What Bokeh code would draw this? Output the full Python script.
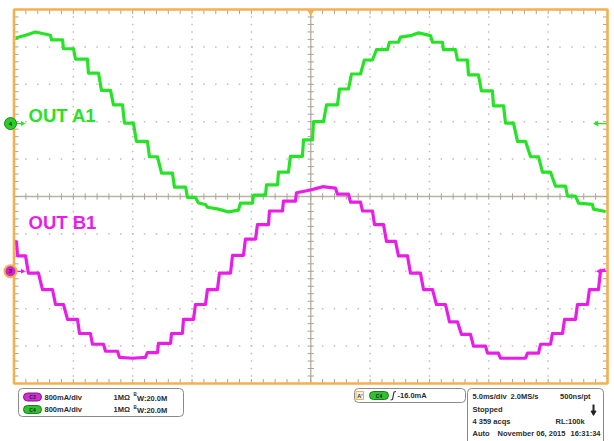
import numpy as np
from bokeh.plotting import figure
from bokeh.models import Range1d, Label
from bokeh.embed import file_html
from bokeh.resources import INLINE

# ---------------- data read from the scope screen ----------------
# time in ms (trigger at 0), current in mA
time_a1_ms = [-24.87, -24.03, -23.19, -21.93, -21.84, -20.91, -20.83, -19.99, -19.82, -18.81,
              -18.73, -17.88, -17.63, -16.87, -16.62, -15.86, -15.69, -14.94, -14.69, -13.76,
              -13.59, -12.91, -12.57, -11.65, -11.48, -10.55, -10.38, -9.71, -9.46, -8.87,
              -8.70, -7.78, -6.93, -6.09, -5.92, -4.91, -4.82, -3.81, -3.73, -2.80,
              -2.72, -1.88, -1.71, -0.70, -0.61, 0.15, 0.23, 1.07, 1.33, 2.25,
              2.42, 3.18, 3.43, 4.19, 4.52, 5.20, 5.54, 6.46, 6.63, 7.39,
              7.56, 8.40, 9.08, 10.09, 10.26, 11.10, 11.18, 12.19, 12.36, 13.20,
              13.29, 14.13, 14.38, 15.31, 15.39, 16.24, 16.41, 17.08, 17.42, 18.09,
              18.52, 19.19, 19.52, 20.20, 20.62, 21.46, 21.63, 22.30, 22.56, 23.73,
              23.82, 24.83]
cur_a1_mA = [1830, 1890, 1960, 1890, 1790, 1790, 1600, 1600, 1380, 1380,
             1080, 1080, 710, 710, 400, 400, 10, 10, -380, -380,
             -710, -710, -1060, -1060, -1360, -1360, -1580, -1580, -1700, -1730,
             -1790, -1830, -1890, -1850, -1700, -1700, -1530, -1530, -1310, -1310,
             -1040, -1040, -700, -700, -350, -350, 40, 40, 400, 400,
             740, 740, 1060, 1060, 1360, 1360, 1580, 1580, 1740, 1740,
             1850, 1880, 1940, 1880, 1740, 1740, 1580, 1580, 1360, 1360,
             1040, 1040, 700, 700, 380, 380, 10, 10, -380, -380,
             -710, -710, -1040, -1040, -1340, -1340, -1550, -1550, -1700, -1730,
             -1830, -1880]

time_b1_ms = [-24.96, -24.79, -24.70, -24.03, -23.78, -22.94, -22.60, -21.76, -21.50, -20.83,
              -20.49, -19.65, -19.48, -18.56, -18.39, -17.46, -17.29, -16.28, -16.12, -15.02,
              -13.93, -13.76, -12.91, -12.83, -11.81, -11.73, -10.81, -10.72, -9.88, -9.71,
              -8.87, -8.70, -7.86, -7.69, -6.76, -6.59, -5.67, -5.50, -4.65, -4.49,
              -3.56, -3.48, -2.38, -2.30, -1.29, -1.20, -0.02, 0.57, 0.99, 2.08,
              2.25, 3.18, 3.35, 4.19, 4.36, 5.20, 5.37, 6.13, 6.38, 7.14,
              7.39, 8.15, 8.40, 9.24, 9.50, 10.26, 10.59, 11.35, 11.69, 12.36,
              12.70, 13.46, 13.71, 14.72, 14.89, 15.81, 15.98, 18.09, 18.26, 19.19,
              19.36, 20.20, 20.36, 21.21, 21.38, 22.30, 22.47, 23.31, 23.48, 24.24,
              24.41, 24.83]
cur_b1_mA = [640, 630, 330, 330, -40, -40, -390, -390, -710, -710,
             -1030, -1030, -1330, -1330, -1560, -1560, -1710, -1710, -1840, -1860,
             -1840, -1740, -1740, -1540, -1540, -1330, -1330, -1030, -1030, -710,
             -710, -390, -390, -40, -40, 340, 340, 690, 690, 1000,
             1000, 1290, 1290, 1500, 1500, 1680, 1740, 1780, 1810, 1780,
             1650, 1650, 1480, 1480, 1290, 1290, 1000, 1000, 640, 640,
             330, 330, -40, -40, -390, -390, -710, -710, -1080, -1080,
             -1350, -1350, -1600, -1600, -1750, -1750, -1860, -1860, -1750, -1750,
             -1560, -1560, -1330, -1330, -1030, -1030, -710, -710, -390, -390,
             0, 30]

channel_names = ["OUT A1", "OUT B1"]
scale_mA_per_div = 800
offset_a1_div = 1.95
offset_b1_div = -2.0
ms_per_div = 5.0
h_divs = 10
v_divs = 10

# ---------------- geometry ----------------
W, H = 614, 441
FL, FR, FT, FB = 13.5, 607, 9, 383        # graticule edges in canvas px
PX_MS = (FR - FL) / (h_divs * ms_per_div)
PX_DIV = (FB - FT) / v_divs
HX = h_divs * ms_per_div / 2
HY = v_divs / 2
x0 = -HX - FL / PX_MS
x1 = HX + (W - FR) / PX_MS
y1 = HY + FT / PX_DIV
y0 = y1 - H / PX_DIV


def X(px):  # canvas px -> data x
    return x0 + px / PX_MS


def Y(py):  # canvas px -> data y (divisions)
    return y1 - py / PX_DIV


p = figure(width=W, height=H, x_range=Range1d(x0, x1), y_range=Range1d(y0, y1),
           output_backend="svg", toolbar_location=None, x_axis_type=None, y_axis_type=None,
           min_border=0)
p.grid.visible = False
p.outline_line_color = None
p.background_fill_color = "white"
p.border_fill_color = "white"

p.extra_y_ranges = {
    "a1": Range1d((y0 - offset_a1_div) * scale_mA_per_div, (y1 - offset_a1_div) * scale_mA_per_div),
    "b1": Range1d((y0 - offset_b1_div) * scale_mA_per_div, (y1 - offset_b1_div) * scale_mA_per_div),
}

# ---------------- graticule ----------------
minor_x = np.arange(-HX, HX + 1e-6, ms_per_div / 5)
minor_y = np.arange(-HY, HY + 1e-6, 0.2)
major_x = [v for v in np.arange(-HX + ms_per_div, HX, ms_per_div) if abs(v) > 1e-6]
major_y = [v for v in np.arange(-HY + 1, HY, 1.0) if abs(v) > 1e-6]

dx, dy = [], []
for mx in major_x:
    for my in minor_y[1:-1]:
        dx.append(mx); dy.append(my)
for my in major_y:
    for mx in minor_x[1:-1]:
        dx.append(mx); dy.append(my)
p.scatter(dx, dy, marker="square", size=1.5, color="#bdbdbd", line_color=None)

tick_col = "#a9a39a"
# centre cross
p.segment(x0=[-HX, 0], y0=[0, -HY], x1=[HX, 0], y1=[0, HY], line_color="#b9b2a3", line_width=1.4)
tl_y = 3.2 / PX_DIV
tl_x = 3.2 / PX_MS
p.segment(x0=minor_x, y0=-tl_y, x1=minor_x, y1=tl_y, line_color=tick_col, line_width=1)
p.segment(x0=-tl_x, y0=minor_y, x1=tl_x, y1=minor_y, line_color=tick_col, line_width=1)
# edge ticks
el_y = 4.5 / PX_DIV
el_x = 4.5 / PX_MS
p.segment(x0=minor_x, y0=HY, x1=minor_x, y1=HY - el_y, line_color=tick_col, line_width=1)
p.segment(x0=minor_x, y0=-HY, x1=minor_x, y1=-HY + el_y, line_color=tick_col, line_width=1)
p.segment(x0=-HX, y0=minor_y, x1=-HX + el_x, y1=minor_y, line_color=tick_col, line_width=1)
p.segment(x0=HX, y0=minor_y, x1=HX - el_x, y1=minor_y, line_color=tick_col, line_width=1)

GREEN = "#26e326"
MAGENTA = "#e81ee8"
ORANGE = "#f3b04c"

# ---------------- traces ----------------
p.line(time_a1_ms, cur_a1_mA, y_range_name="a1", line_color=GREEN, line_width=3.2, line_join="round")
p.line(time_b1_ms, cur_b1_mA, y_range_name="b1", line_color=MAGENTA, line_width=3.2, line_join="round")

# border
p.quad(left=-HX, right=HX, bottom=-HY, top=HY, fill_alpha=0, line_color=ORANGE, line_width=2.6)


def lbl(text, px, py, size="7.5px", color="#2b2b2b", bold=True, align="left", font="Liberation Sans"):
    p.add_layout(Label(x=X(px), y=Y(py), text=text, text_font=font, text_font_size=size,
                       text_font_style="bold" if bold else "normal", text_color=color,
                       text_align=align, text_baseline="middle"))


# channel names
lbl(channel_names[0], 28, 115, size="18.5px", color=GREEN)
lbl(channel_names[1], 28, 222, size="18.5px", color=MAGENTA)

# ground markers (left)
ga = offset_a1_div
gb = offset_b1_div
gy_a = 196 - ga * PX_DIV
gy_b = 196 - gb * PX_DIV
p.segment(x0=[X(15), X(15)], y0=[ga, gb], x1=[X(21), X(21)], y1=[ga, gb],
          line_color=[GREEN, MAGENTA], line_width=1.2)
p.scatter([X(22), X(22)], [ga, gb], marker="triangle", angle=-np.pi / 2, size=5,
          color=[GREEN, MAGENTA], line_color=None)
p.scatter([X(10)], [ga], marker="circle", size=12, fill_color="#2ccc2c", line_color="#1a8a1a", line_width=1)
p.scatter([X(10)], [gb], marker="circle", size=12, fill_color="#d020d0", line_color=ORANGE, line_width=2)
lbl("4", 10, gy_a, size="6px", color="#003300", align="center")
lbl("3", 10, gy_b, size="6px", color="#330033", align="center")

# right side markers
p.segment(x0=[X(596), X(598)], y0=[ga, gb], x1=[X(606), X(606)], y1=[ga, gb],
          line_color=[GREEN, MAGENTA], line_width=1.2)
p.scatter([X(596), X(599)], [ga, gb], marker="triangle", angle=np.pi / 2, size=6,
          color=[GREEN, MAGENTA], line_color=None)

# trigger position marker
p.scatter([0], [Y(11)], marker="inverted_triangle", size=8, color=ORANGE, line_color=None)

# ---------------- bottom info panel ----------------
def box(l, r, t, b, radius=4):
    p.quad(left=X(l), right=X(r), top=Y(t), bottom=Y(b), fill_color="white",
           line_color="#8a8a8a", line_width=1, border_radius=radius)


def pill(l, r, cy, fill, line, txt):
    p.quad(left=X(l), right=X(r), top=Y(cy - 4), bottom=Y(cy + 4), fill_color=fill,
           line_color=line, line_width=1, border_radius=4)
    lbl(txt, (l + r) / 2, cy, size="5px", color="#222222", align="center")


box(18, 183, 388, 416)
pill(23, 41, 396.5, "#d030d0", "#901090", "C3")
pill(23, 41, 409, "#30c030", "#188018", "C4")
for cy in (396.5, 409):
    lbl("800mA/div", 44, cy)
    lbl("1MΩ", 113, cy)
    lbl("B", 133, cy - 2.5, size="4.5px")
    lbl("W:20.0M", 136.5, cy + 1)

box(354, 465, 388, 402)
p.quad(left=X(355.5), right=X(363), top=Y(391), bottom=Y(399), fill_color="#f6f0e6",
       line_color=ORANGE, line_width=1)
lbl("A'", 359.3, 395, size="5.5px", color="#333333", align="center")
pill(369, 388, 395, "#30c030", "#188018", "C4")
p.line([X(390), X(392), X(393.5), X(395.5)], [Y(399.5), Y(399), Y(391.5), Y(391)],
       line_color="#333333", line_width=1.2)
lbl("-16.0mA", 397, 395)

box(467, 603, 388, 460)
lbl("5.0ms/div", 472, 396)
lbl("2.0MS/s", 510, 396)
lbl("500ns/pt", 590, 396, align="right")
lbl("Stopped", 472, 409)
p.segment(x0=[X(593)], y0=[Y(404)], x1=[X(593)], y1=[Y(411)], line_color="#222222", line_width=2)
p.scatter([X(593)], [Y(412)], marker="inverted_triangle", size=5, color="#222222")
lbl("4 359 acqs", 472, 421)
lbl("RL:100k", 555, 421)
lbl("Auto", 472, 433)
lbl("November 06, 2015", 497, 433)
lbl("16:31:34", 600, 433, align="right")

open("out.html", "w").write(file_html(p, INLINE))
